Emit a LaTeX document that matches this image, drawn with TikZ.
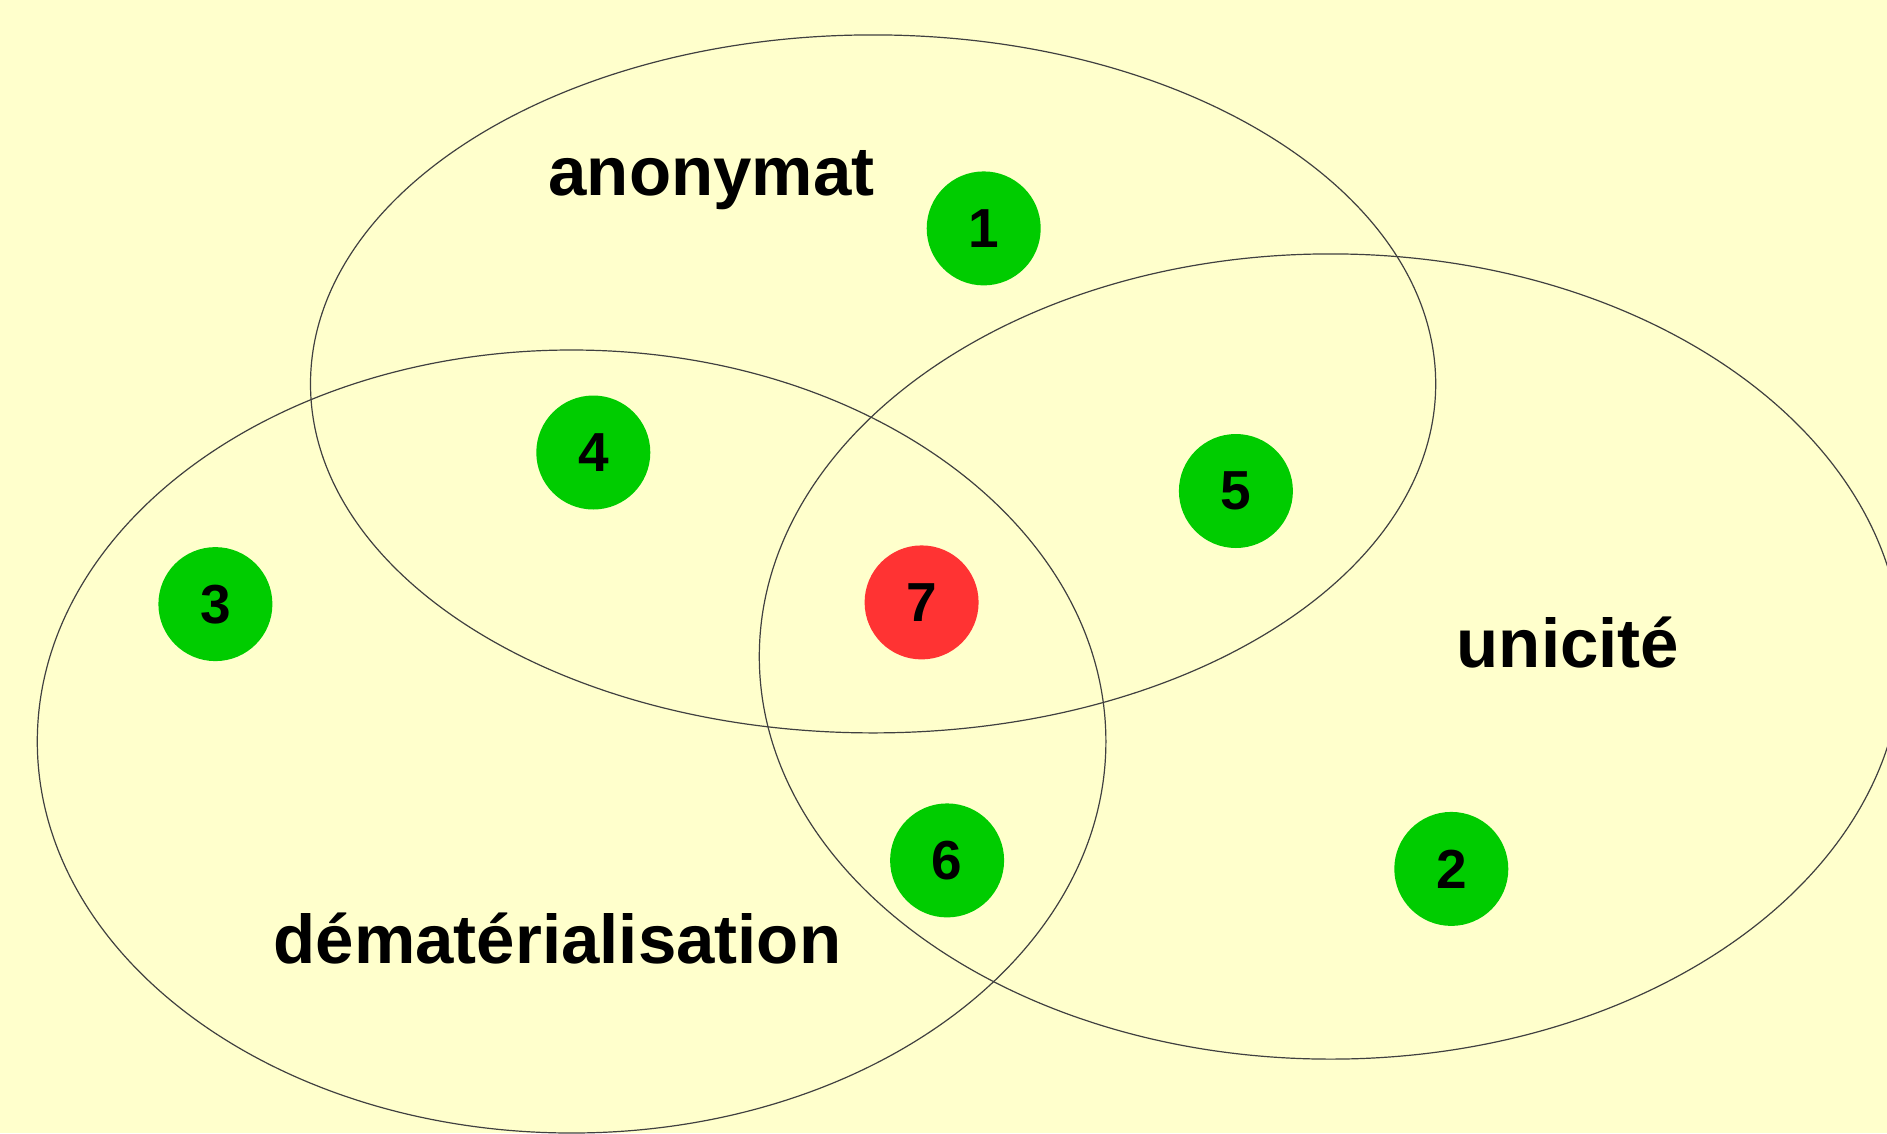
\documentclass[tikz,border=0pt]{standalone}
\usepackage{fontspec}
\setmainfont{Liberation Sans}
\definecolor{bgyellow}{HTML}{FFFFCC}
\definecolor{dotgreen}{HTML}{00CC00}
\definecolor{dotred}{HTML}{FF3333}
\definecolor{ringgray}{HTML}{404040}
\begin{document}
\begin{tikzpicture}[x=1pt,y=-1pt,
  ring/.style={draw=ringgray,line width=1.2pt},
  spot/.style={circle,minimum size=114pt,inner sep=0pt,fill=dotgreen,
    font=\fontsize{55}{60}\selectfont\bfseries},
  hot/.style={spot,fill=dotred},
  setlabel/.style={anchor=base,inner sep=0pt,font=\fontsize{69}{80}\selectfont\bfseries}]
\useasboundingbox (0,0) rectangle (1887,1133);
\clip (0,0) rectangle (1887,1133);
\fill[bgyellow] (0,0) rectangle (1887,1133);
% sets
\draw[ring] (873.1,383.9) ellipse [x radius=562.6pt, y radius=349pt];
\draw[ring] (571.6,741.5) ellipse [x radius=534.3pt, y radius=391.5pt];
\draw[ring] (1330.6,656.5) ellipse [x radius=571.3pt, y radius=402.6pt];
% labels
\node[setlabel] (anon) at (711.5,195) {anonymat};
\node[setlabel] (unic) at (1568,667) {unicité};
\node[setlabel] (demat) at (557.5,963) {dématérialisation};
% regions
\node[spot] (n1) at (983.7,228.4) {1};
\node[spot] (n4) at (593.3,452.5) {4};
\node[spot] (n5) at (1235.9,491) {5};
\node[spot] (n3) at (215.4,604.1) {3};
\node[hot]  (n7) at (921.6,602.4) {7};
\node[spot] (n6) at (947.1,860.4) {6};
\node[spot] (n2) at (1451.3,868.9) {2};
\end{tikzpicture}
\end{document}
